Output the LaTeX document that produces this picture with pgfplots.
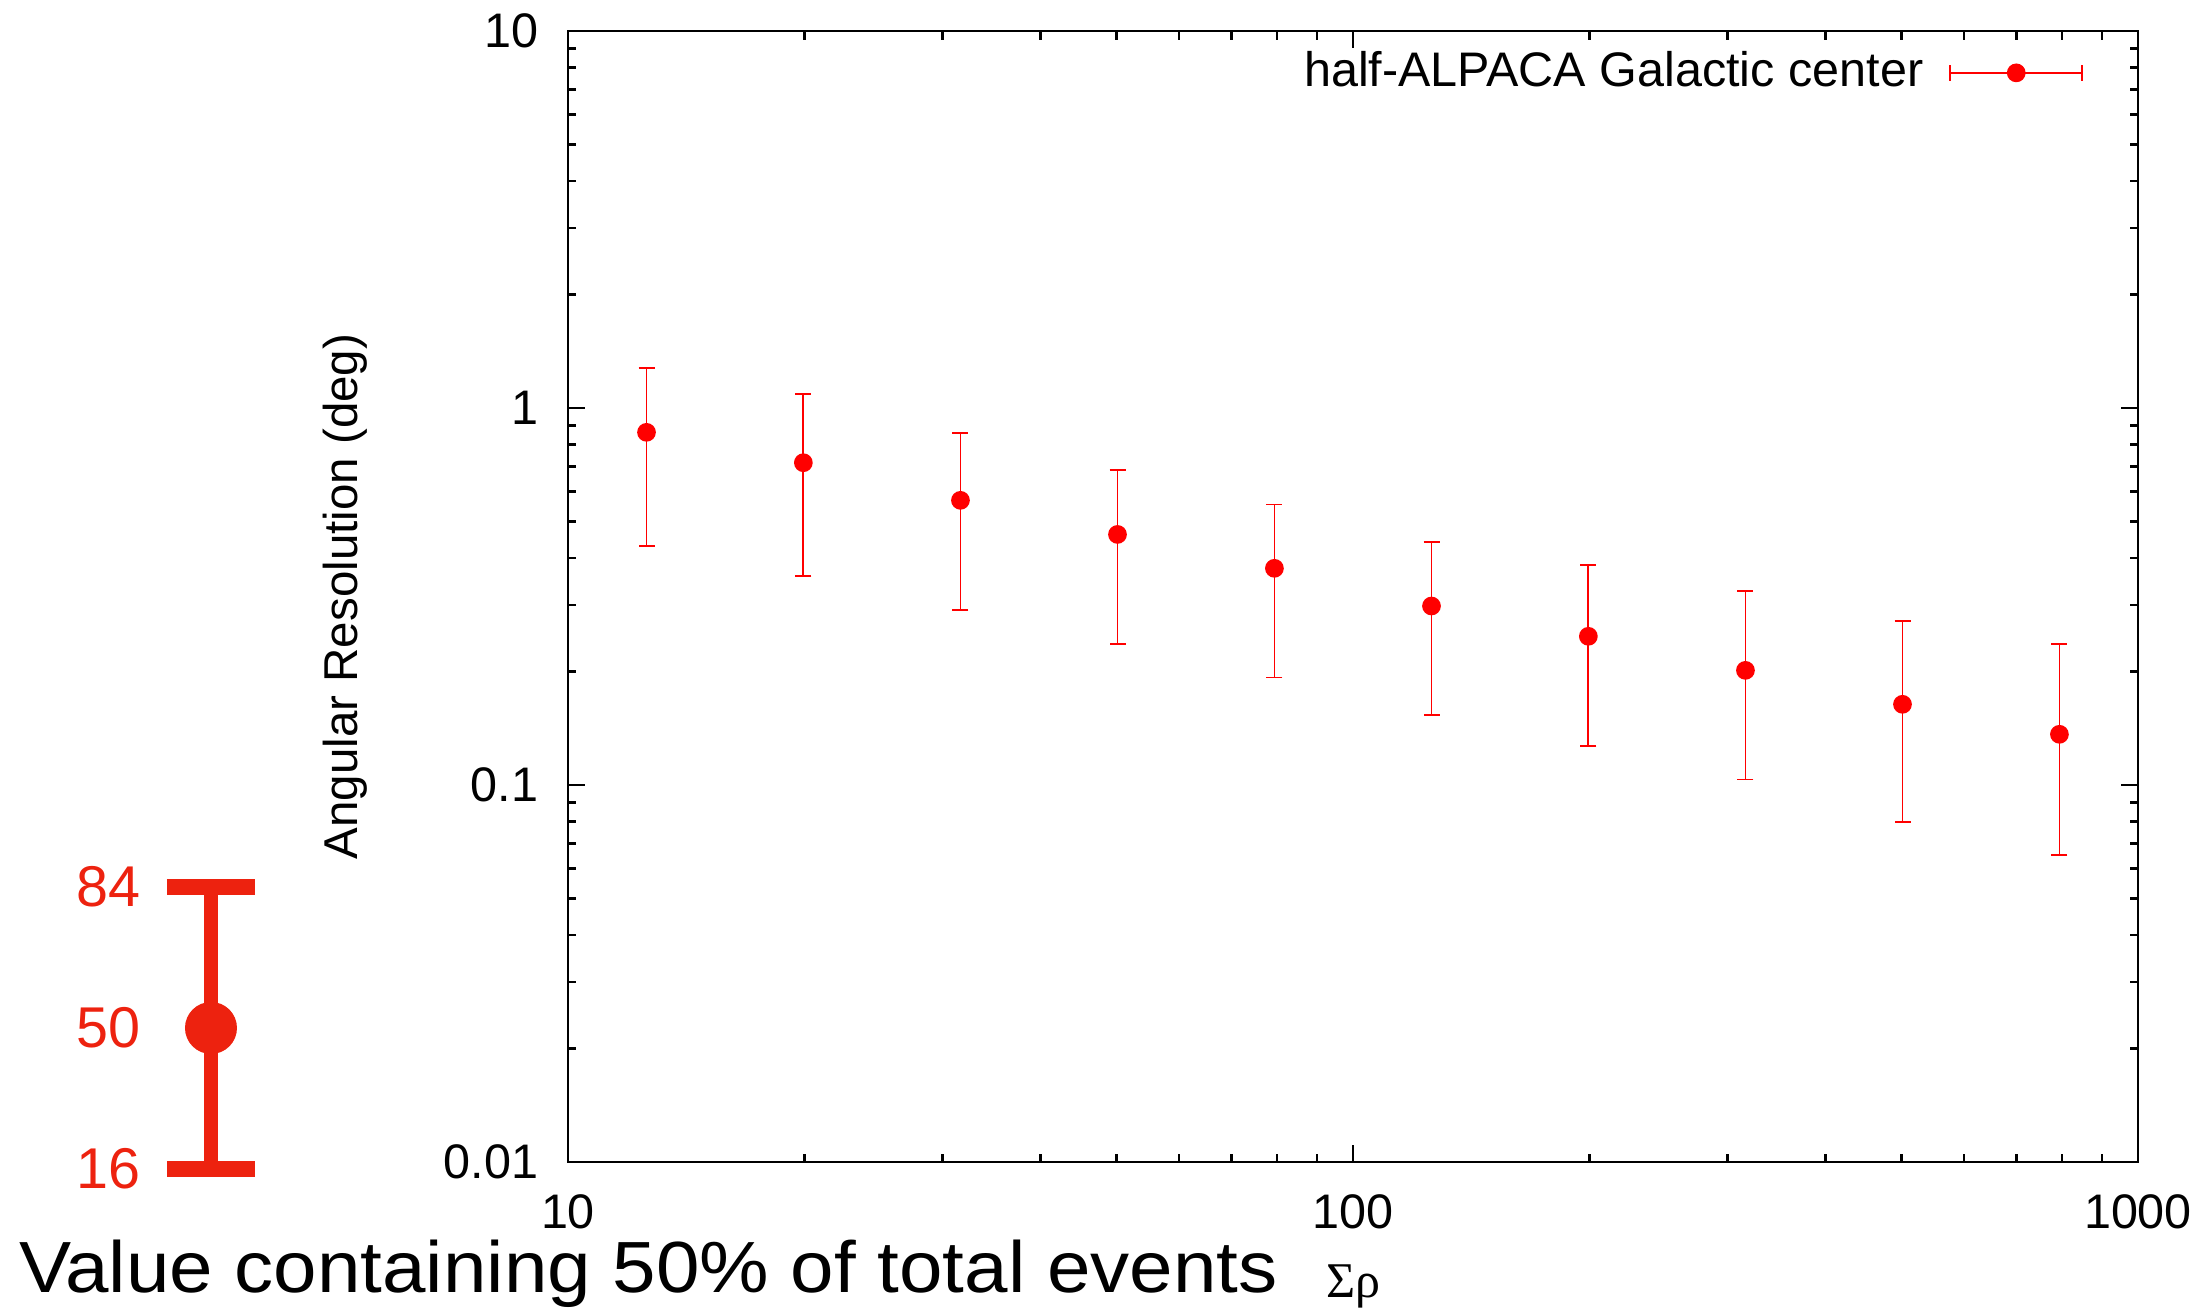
\documentclass[border=0pt]{standalone}
\usepackage{pgfplots}
\pgfplotsset{compat=1.18}
\usepackage{pgfplotstable}
\usepackage{fontspec}
\setmainfont{Liberation Sans}
\newfontfamily\seriffont{Liberation Serif}
\definecolor{insetred}{RGB}{237,34,15}
\pgfplotstableread{
x y ep em
12.59 0.862 0.412 0.431
19.95 0.716 0.371 0.358
31.62 0.569 0.291 0.278
50.12 0.462 0.223 0.225
79.43 0.3757 0.179 0.183
125.9 0.2984 0.143 0.145
199.5 0.248 0.136 0.121
316.2 0.2014 0.126 0.098
501.2 0.1637 0.108 0.084
794.3 0.1363 0.100 0.071
}\datatable
\begin{document}
\begin{tikzpicture}
\useasboundingbox (-113.6pt,-29.4pt) rectangle (328.6pt,232.4pt);
\begin{axis}[
  at={(0pt,0pt)}, anchor=south west,
  scale only axis, width=314pt, height=226.2pt,
  xmode=log, ymode=log,
  xmin=10, xmax=1000, ymin=0.01, ymax=10,
  xtick={10,100,1000}, xticklabels={10,100,1000},
  ytick={0.01,0.1,1,10}, yticklabels={0.01,0.1,1,10},
  minor xtick={20,30,40,50,60,70,80,90,200,300,400,500,600,700,800,900},
  minor ytick={0.02,0.03,0.04,0.05,0.06,0.07,0.08,0.09,0.2,0.3,0.4,0.5,0.6,0.7,0.8,0.9,2,3,4,5,6,7,8,9},
  tick align=inside, xtick pos=both, ytick pos=both,
  xticklabel pos=lower, yticklabel pos=left,
  major tick length=3.4pt, minor tick length=1.7pt,
  every tick/.style={black, line width=0.5pt},
  axis line style={line width=0.55pt},
  tick label style={font=\fontsize{9.7}{11}\selectfont},
  xticklabel style={yshift=-3pt},
  yticklabel style={xshift=-2.4pt},
  ylabel={Angular Resolution (deg)},
  every axis y label/.style={at={(axis description cs:-0.142,0.5)}, rotate=90, anchor=center, font=\fontsize{9.5}{11}\selectfont},
  legend style={draw=none, fill=none, at={(rel axis cs:0.9657,0.963)}, anchor=east, font=\fontsize{9.7}{11}\selectfont, inner sep=0pt},
  legend plot pos=right,
  legend cell align=right,
]
\addplot[red, only marks, mark=*, mark size=1.67pt,
  legend image code/.code={
    \path[draw=none, fill=none] (0pt,0pt) -- (1pt,0pt);
    \draw[red, line width=0.35pt] (3.4pt,0pt) -- (29.8pt,0pt);
    \draw[red, line width=0.35pt] (3.4pt,-1.6pt) -- (3.4pt,1.6pt);
    \draw[red, line width=0.35pt] (29.8pt,-1.6pt) -- (29.8pt,1.6pt);
    \fill[red] (16.6pt,0pt) circle (1.67pt);
  },
  error bars/.cd, y dir=both, y explicit,
  error bar style={line width=0.35pt, red},
  error mark options={rotate=90, line width=0.35pt, mark size=1.6pt, red}]
  table[x=x, y=y, y error plus=ep, y error minus=em] {\datatable};
\addlegendentry{half-ALPACA Galactic center}
\end{axis}
\begin{axis}[
  at={(-80pt,-1.4pt)}, anchor=south west,
  scale only axis, width=17.2pt, height=56.4pt,
  xmin=-1, xmax=1, ymin=16, ymax=84,
  axis line style={draw=none}, xtick=\empty,
  ytick={16,50,84}, yticklabels={16,50,84},
  major tick length=0pt, clip=false,
  yticklabel style={text=insetred, font=\fontsize{11.5}{13}\selectfont, xshift=-2pt},
]
\addplot[insetred, only marks, mark=*, mark size=5pt,
  error bars/.cd, y dir=both, y explicit,
  error bar style={line width=2.8pt, insetred},
  error mark options={rotate=90, line width=3.1pt, mark size=8.8pt, insetred}]
  coordinates {(0,50) +- (0,34)};
\end{axis}
\node[anchor=base west, inner sep=0pt, xscale=1.078, font=\fontsize{14.5}{17}\selectfont] at (-110pt,-26.2pt) {Value containing 50\% of total events};
\node[anchor=base west, inner sep=0pt, font=\seriffont\fontsize{10}{11}\selectfont] at (151.4pt,-27.2pt) {Σρ};
\end{tikzpicture}
\end{document}
